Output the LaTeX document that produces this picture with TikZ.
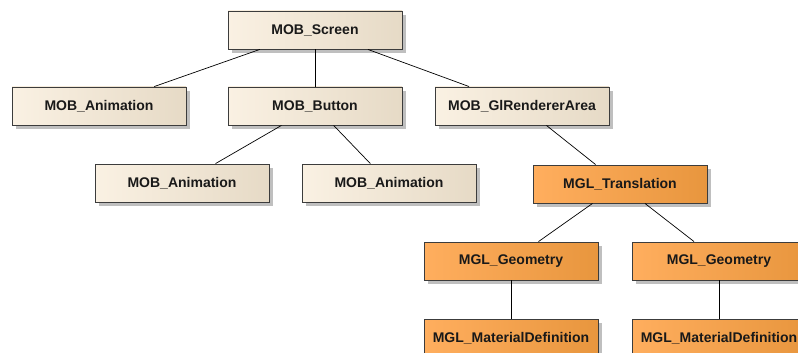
\documentclass[tikz,border=0pt]{standalone}
\usepackage{fontspec}
\setmainfont{Liberation Sans}
\usetikzlibrary{shadows}
\definecolor{creamL}{HTML}{FAF1E3}
\definecolor{creamR}{HTML}{E6DAC6}
\definecolor{orangeL}{HTML}{FFAE5E}
\definecolor{orangeR}{HTML}{E8963E}
\definecolor{frame}{HTML}{3C3C3C}
\tikzset{
  classbox/.style={draw=frame, line width=0.9pt, minimum width=174pt, minimum height=38pt,
    inner sep=0pt, font=\fontsize{14}{16}\selectfont\bfseries, text=black!90,
    drop shadow={shadow xshift=4pt, shadow yshift=-4pt, fill=black!25, opacity=1}},
  mob/.style={classbox, left color=creamL, right color=creamR},
  mgl/.style={classbox, left color=orangeL, right color=orangeR},
  link/.style={draw=black, line width=0.7pt}
}
\begin{document}
\begin{tikzpicture}[x=1pt, y=-1pt]
  \useasboundingbox (0,0) rectangle (798,353);
  \clip (0,0) rectangle (798,353);
  % class boxes, placed by centre
  \node[mob] (screen) at (315,30)  {MOB\_Screen};
  \node[mob] (anim1)  at (99,106)  {MOB\_Animation};
  \node[mob] (button) at (315,106) {MOB\_Button};
  \node[mob] (gl)     at (522,106) {MOB\_GlRendererArea};
  \node[mob] (anim2)  at (182,183) {MOB\_Animation};
  \node[mob] (anim3)  at (389,183) {MOB\_Animation};
  \node[mgl] (trans)  at (620,184) {MGL\_Translation};
  \node[mgl] (geo1)   at (511,261) {MGL\_Geometry};
  \node[mgl] (geo2)   at (719,261) {MGL\_Geometry};
  \node[mgl] (mat1)   at (511,338) {MGL\_MaterialDefinition};
  \node[mgl] (mat2)   at (719,338) {MGL\_MaterialDefinition};
  % containment links
  \draw[link] (screen) -- (anim1);
  \draw[link] (screen) -- (button);
  \draw[link] (screen) -- (gl);
  \draw[link] (button) -- (anim2);
  \draw[link] (button) -- (anim3);
  \draw[link] (gl) -- (trans);
  \draw[link] (trans) -- (geo1);
  \draw[link] (trans) -- (geo2);
  \draw[link] (geo1) -- (mat1);
  \draw[link] (geo2) -- (mat2);
\end{tikzpicture}
\end{document}
